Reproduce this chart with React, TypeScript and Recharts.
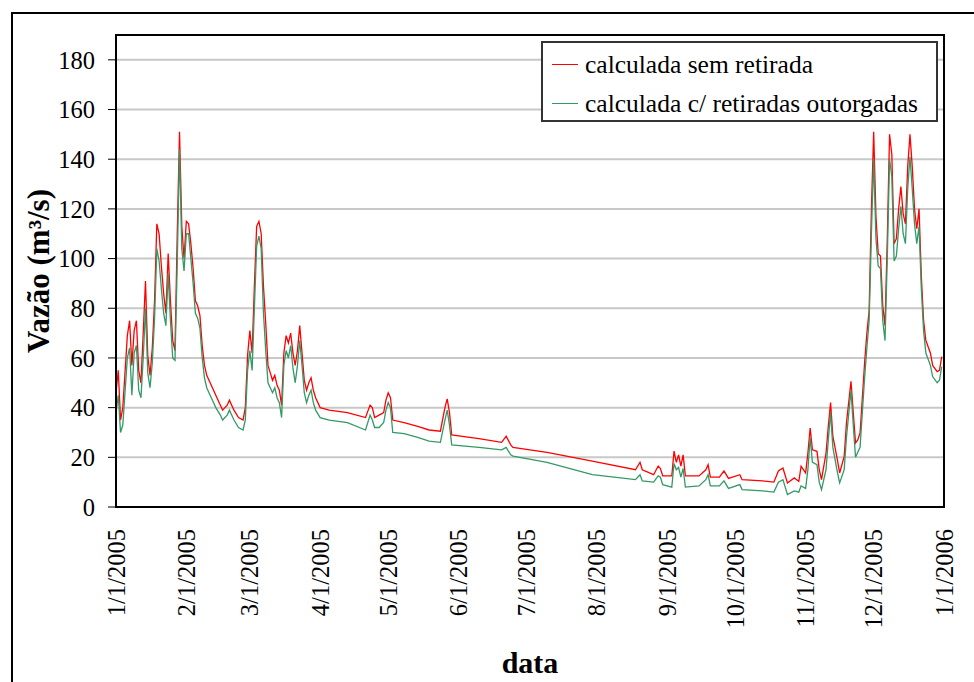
import { CartesianGrid, Legend, Line, LineChart, ReferenceArea, XAxis, YAxis } from "recharts";

const FONTE = '"Liberation Serif", "DejaVu Serif", "Noto Serif", "Times New Roman", serif';

// dia do ano (0 = 1/1/2005)
const dias = [
  0, 1, 2, 3, 5, 6, 7, 8, 9, 10,
  11, 12, 13, 14, 15, 16, 17, 18, 19, 20,
  21, 22, 23, 24, 25, 26, 27, 28, 29, 30,
  31, 32, 33, 34, 35, 36, 37, 38, 39, 40,
  42, 44, 46, 47, 49, 50, 51, 52, 54, 56,
  57, 58, 59, 60, 61, 62, 63, 64, 65, 66,
  67, 68, 69, 70, 71, 72, 73, 74, 75, 76,
  77, 78, 79, 80, 81, 82, 83, 84, 85, 86,
  87, 88, 90, 94, 102, 110, 112, 113, 114, 116,
  118, 119, 120, 121, 122, 127, 133, 138, 143, 145,
  146, 147, 148, 160, 170, 172, 174, 175, 190, 210,
  229, 231, 232, 237, 239, 240, 241, 245, 246, 247,
  248, 249, 250, 251, 257, 260, 261, 262, 266, 268,
  270, 275, 276, 285, 290, 292, 294, 296, 299, 301,
  302, 304, 305, 306, 307, 309, 310, 311, 313, 314,
  315, 316, 318, 319, 321, 322, 324, 325, 326, 327,
  328, 330, 331, 332, 333, 334, 335, 336, 337, 338,
  339, 340, 341, 342, 343, 344, 345, 346, 347, 348,
  349, 350, 351, 352, 353, 354, 355, 356, 357, 359,
  360, 362, 363, 364,
];

const semRetirada = [
  46, 55, 35, 40, 69, 75, 57, 71, 75, 55,
  50, 70, 91, 61, 53, 64, 83, 114, 110, 97,
  86, 78, 102, 83, 67, 63, 110, 151, 113, 100,
  115, 114, 106, 96, 83, 81, 77, 65, 57, 53,
  49, 45, 41, 39, 41, 43, 41, 39, 36, 35,
  40, 61, 71, 62, 89, 113, 115, 110, 89, 74,
  57, 54, 51, 53, 49, 47, 41, 62, 69, 66,
  70, 62, 57, 63, 73, 62, 51, 47, 50, 52,
  47, 44, 40, 39, 38, 36, 41, 40, 36, 37,
  38, 43, 46, 44, 35, 34, 32.5, 31, 30.5, 40,
  43.5, 38, 29, 27.5, 26, 28.5, 25, 24, 22, 18.5,
  15, 18, 15, 13, 16.5, 15.5, 12.5, 12.5, 22.5, 18,
  21, 16.5, 21, 12.5, 12.5, 15, 17, 12, 12, 14.5,
  11.5, 13, 11, 10.5, 10, 14.5, 15.7, 9.7, 11.7, 10.3,
  16.4, 13.7, 21.7, 31.8, 23, 22.4, 15, 11, 21.7, 32.5,
  42, 28.5, 19, 13.7, 20.4, 33.8, 50.6, 38, 25.8, 27,
  29.8, 58, 70, 79, 120, 151, 117, 102, 101, 81,
  73, 108, 150, 142, 106, 108, 120, 129, 118, 114,
  137, 150, 137, 120, 112, 120, 93, 75, 67, 62,
  57, 54.5, 55, 60.5,
];

const comRetiradas = [
  38, 45, 30, 33, 60, 64, 45, 62, 65, 47,
  44, 60, 80, 54, 48, 58, 76, 104, 99, 88,
  78, 73, 94, 75, 60, 59, 98, 144, 104, 95,
  110, 110, 100, 90, 78, 76, 72, 60, 52, 48,
  44, 40, 37, 35, 37, 39, 37, 35, 32, 31,
  35, 55, 63, 55, 80, 105, 109, 104, 78, 63,
  50, 48, 46, 48, 44, 42, 36, 57, 63, 60,
  65, 56, 50, 57, 67, 57, 46, 42, 45, 47,
  42, 39, 36, 35, 34, 31, 37, 35, 32, 32,
  34, 39, 42, 40, 30, 29.5, 28, 26.5, 26, 35,
  39, 33, 25, 24, 23, 24, 21, 20.5, 18, 13,
  11, 13, 10.5, 10, 12.5, 12, 9, 8, 17.5, 15,
  16, 12, 15.5, 8, 8.5, 11, 13, 8.5, 8.5, 10.5,
  7.5, 9, 7, 6.5, 6, 10, 11, 5, 6.5, 6,
  8.5, 7.5, 15, 28, 18, 17, 10, 7, 15, 27,
  38, 24, 14, 9.7, 15, 28, 47, 33, 20, 22,
  24, 52, 64, 75, 110, 140, 108, 97, 96, 75,
  67, 100, 140, 133, 99, 101, 112, 121, 110, 106,
  128, 141, 128, 114, 106, 113, 88, 71, 62, 57,
  52.5, 50, 51, 56.5,
];

const SERIES = [
  { key: "sem", nome: "calculada sem retirada", cor: "#ff0000" },
  { key: "com", nome: "calculada c/ retiradas outorgadas", cor: "#339966" },
];

const mesesTicks = [0, 31, 59, 90, 120, 151, 181, 212, 243, 273, 304, 334, 365];
const mesesRotulos = [
  "1/1/2005", "2/1/2005", "3/1/2005", "4/1/2005", "5/1/2005", "6/1/2005", "7/1/2005",
  "8/1/2005", "9/1/2005", "10/1/2005", "11/1/2005", "12/1/2005", "1/1/2006",
];
const vazaoTicks = [0, 20, 40, 60, 80, 100, 120, 140, 160, 180];

const dados = dias.map((dia, i) => ({ dia, sem: semRetirada[i], com: comRetiradas[i] }));

function TickData({ x, y, payload }: any) {
  const i = mesesTicks.indexOf(payload.value);
  return (
    <text
      transform={`translate(${x},${y}) rotate(-90)`}
      textAnchor="end"
      dy="0.35em"
      fontFamily={FONTE}
      fontSize={24.5}
      fill="#000"
    >
      {mesesRotulos[i]}
    </text>
  );
}

function TituloY({ viewBox }: any) {
  const cy = viewBox.y + viewBox.height / 2;
  return (
    <text
      transform={`translate(38,${cy}) rotate(-90)`}
      textAnchor="middle"
      dy="0.35em"
      fontFamily={FONTE}
      fontSize={31}
      fontWeight="bold"
      fill="#000"
    >
      Vazão (m³/s)
    </text>
  );
}

function TituloX({ viewBox }: any) {
  return (
    <text
      x={viewBox.x + viewBox.width / 2}
      y={viewBox.y + 155}
      textAnchor="middle"
      dy="0.35em"
      fontFamily={FONTE}
      fontSize={30}
      fontWeight="bold"
      fill="#000"
    >
      data
    </text>
  );
}

// a ordem da legenda segue a lista SERIES (vermelha em cima)
function Legenda() {
  return (
    <div
      style={{
        width: "100%",
        height: "100%",
        boxSizing: "border-box",
        border: "2px solid #333",
        background: "#fff",
        padding: "2px 0 0 9px",
        fontFamily: FONTE,
        fontSize: 25.5,
        color: "#000",
      }}
    >
      {SERIES.map((s) => (
        <div key={s.key} style={{ display: "flex", alignItems: "center", height: 39 }}>
          <span style={{ display: "inline-block", width: 26, height: 1.5, background: s.cor, marginRight: 7 }} />
          <span>{s.nome}</span>
        </div>
      ))}
    </div>
  );
}

export default function App() {
  return (
    <div style={{ position: "absolute", left: 0, top: 0, width: 974, height: 682, overflow: "hidden", background: "#fff" }}>
      <div
        style={{
          position: "absolute",
          left: 11,
          top: 12,
          width: 1000,
          height: 720,
          border: "2px solid #000",
        }}
      />
      <div style={{ position: "absolute", left: 0, top: 0 }}>
        <LineChart width={974} height={682} data={dados} margin={{ top: 35, right: 30, bottom: 25, left: 16 }}>
          <CartesianGrid horizontal vertical={false} stroke="#c8c8c8" strokeWidth={2} />
          <XAxis
            dataKey="dia"
            type="number"
            domain={[0, 365]}
            ticks={mesesTicks}
            interval={0}
            height={150}
            tickLine={false}
            tickSize={0}
            tickMargin={22}
            axisLine={{ stroke: "#000", strokeWidth: 2 }}
            tick={<TickData />}
            label={<TituloX />}
          />
          <YAxis
            domain={[0, 190]}
            ticks={vazaoTicks}
            interval={0}
            width={100}
            tickSize={8}
            tickMargin={13}
            axisLine={{ stroke: "#000", strokeWidth: 2 }}
            tickLine={{ stroke: "#000" }}
            tick={{ fill: "#000", fontSize: 24.5, fontFamily: FONTE }}
            label={<TituloY />}
          />
          {SERIES.map((s) => (
            <Line
              key={s.key}
              dataKey={s.key}
              name={s.nome}
              type="linear"
              stroke={s.cor}
              strokeWidth={1.3}
              dot={false}
              isAnimationActive={false}
            />
          ))}
          <ReferenceArea x1={0} x2={365} y1={0} y2={190} fill="none" stroke="#000" strokeWidth={2} ifOverflow="visible" />
          <Legend
            layout="horizontal"
            verticalAlign="middle"
            align="center"
            content={<Legenda />}
            wrapperStyle={{ left: 541, top: 41, width: 397, height: 81 }}
          />
        </LineChart>
      </div>
    </div>
  );
}
